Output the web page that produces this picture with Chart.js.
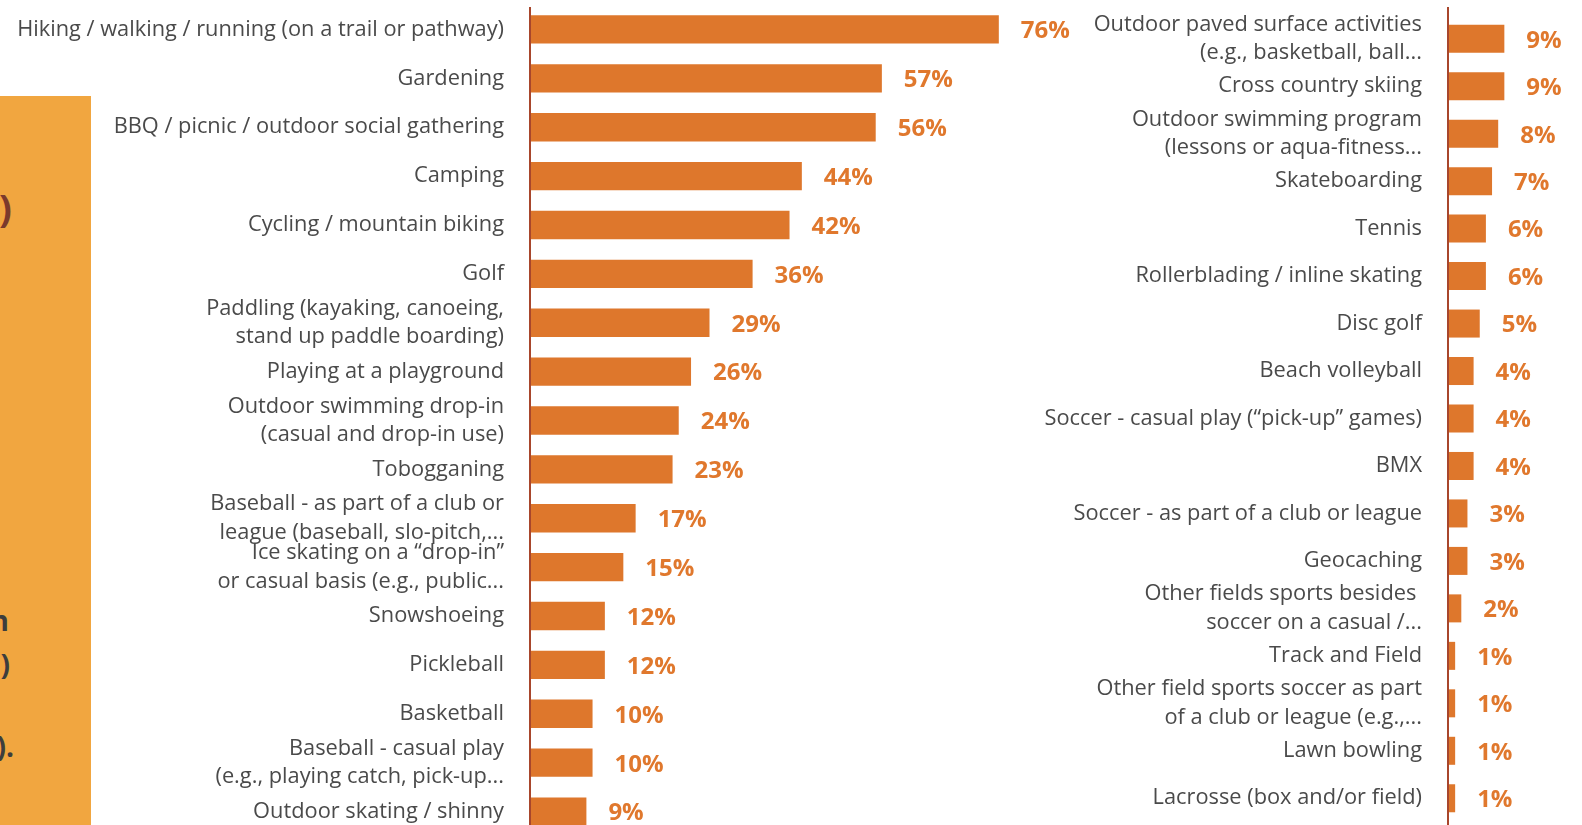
<!DOCTYPE html>
<html>
<head>
<meta charset="utf-8">
<script src="https://cdn.jsdelivr.net/npm/chart.js@4.4.1/dist/chart.umd.min.js"></script>
<style>
    html, body { margin: 0; padding: 0; background: #fff; overflow: hidden; width: 1582px; height: 825px; }
    #panel { position: absolute; left: 0; top: 96px; width: 91px; height: 729px; background: #F1A640; overflow: hidden; }
    .bit { position: absolute; left: -60px; width: 72px; text-align: right; font-family: "Open Sans", sans-serif; font-weight: 700; line-height: 1; }
    #leftWrap { position: absolute; left: 0; top: 0; width: 1085px; height: 840px; }
    #rightWrap { position: absolute; left: 1000px; top: 0; width: 582px; height: 840px; }
</style>
</head>
<body>
<div id="panel">
    <div class="bit" style="top:92px;font-size:38px;color:#7B3A2C;">)</div>
    <div class="bit" style="top:510px;font-size:28px;color:#3d3d3d;left:-63px;">n</div>
    <div class="bit" style="top:554px;font-size:28px;color:#3d3d3d;left:-62px;">)</div>
    <div class="bit" style="top:636px;font-size:28px;color:#3d3d3d;left:-58px;">).</div>
</div>
<div id="leftWrap"><canvas id="leftChart"></canvas></div>
<div id="rightWrap"><canvas id="rightChart"></canvas></div>
<script>
    "use strict";

    const leftLabels = [
        "Hiking / walking / running (on a trail or pathway)",
        "Gardening",
        "BBQ / picnic / outdoor social gathering",
        "Camping",
        "Cycling / mountain biking",
        "Golf",
        ["Paddling (kayaking, canoeing,", "stand up paddle boarding)"],
        "Playing at a playground",
        ["Outdoor swimming drop-in", "(casual and drop-in use)"],
        "Tobogganing",
        ["Baseball - as part of a club or", "league (baseball, slo-pitch,..."],
        ["Ice skating on a \u201cdrop-in\u201d", "or casual basis (e.g., public..."],
        "Snowshoeing",
        "Pickleball",
        "Basketball",
        ["Baseball - casual play", "(e.g., playing catch, pick-up..."],
        "Outdoor skating / shinny",
    ];
    const leftValues = [76, 57, 56, 44, 42, 36, 29, 26, 24, 23, 17, 15, 12, 12, 10, 10, 9];

    const rightLabels = [
        ["Outdoor paved surface activities", "(e.g., basketball, ball..."],
        "Cross country skiing",
        ["Outdoor swimming program", "(lessons or aqua-fitness..."],
        "Skateboarding",
        "Tennis",
        "Rollerblading / inline skating",
        "Disc golf",
        "Beach volleyball",
        "Soccer - casual play (\u201cpick-up\u201d games)",
        "BMX",
        "Soccer - as part of a club or league",
        "Geocaching",
        ["Other fields sports besides ", "soccer on a casual /..."],
        "Track and Field",
        ["Other field sports soccer as part", "of a club or league (e.g.,..."],
        "Lawn bowling",
        "Lacrosse (box and/or field)",
    ];
    const rightValues = [9, 9, 8, 7, 6, 6, 5, 4, 4, 4, 3, 3, 2, 1, 1, 1, 1];

    const BAR_COLOR = "#DE772C";
    const VALUE_COLOR = "#E0782D";
    const AXIS_COLOR = "#A8462C";
    const LABEL_COLOR = "#4a4a4a";

    // vertical axis line, runs from near the top to the bottom of the canvas
    const axisLine = {
        id: "axisLine",
        afterDraw(chart) {
            const { ctx, chartArea } = chart;
            ctx.save();
            ctx.fillStyle = AXIS_COLOR;
            ctx.fillRect(chartArea.left - 2, 7, 2, chart.height);
            ctx.restore();
        },
    };

    // percentage labels right of each bar
    const valueLabels = {
        id: "valueLabels",
        afterDatasetsDraw(chart) {
            const { ctx } = chart;
            const meta = chart.getDatasetMeta(0);
            const data = chart.data.datasets[0].data;
            ctx.save();
            ctx.font = "700 24px 'Open Sans', sans-serif";
            ctx.fillStyle = VALUE_COLOR;
            ctx.textAlign = "left";
            ctx.textBaseline = "middle";
            meta.data.forEach((bar, i) => {
                ctx.fillText(data[i] + "%", bar.x + 22, bar.y + 2);
            });
            ctx.restore();
        },
    };

    function makeChart(id, labels, values, cfg) {
        const ctx = document.getElementById(id).getContext("2d");
        return new Chart(ctx, {
            type: "bar",
            data: {
                labels: labels,
                datasets: [
                    {
                        data: values,
                        backgroundColor: BAR_COLOR,
                        barPercentage: cfg.bar,
                        categoryPercentage: 1,
                    },
                ],
            },
            options: {
                indexAxis: "y",
                responsive: true,
                maintainAspectRatio: false,
                animation: false,
                layout: {
                    padding: { top: cfg.top, bottom: cfg.bottom, left: 0, right: cfg.right },
                },
                plugins: {
                    legend: { display: false },
                    tooltip: { enabled: false },
                },
                scales: {
                    x: { display: false, min: 0, max: cfg.max },
                    y: {
                        grid: { display: false, drawTicks: false },
                        border: { display: false },
                        ticks: {
                            color: LABEL_COLOR,
                            padding: 27,
                            autoSkip: false,
                            font: { family: "Open Sans", size: 21.8, lineHeight: 1.3 },
                        },
                        afterFit(axis) {
                            axis.width = cfg.yWidth;
                            // labels sit inside their rows, no extra room needed
                            axis.paddingTop = 0;
                            axis.paddingBottom = 0;
                        },
                    },
                },
            },
            plugins: [axisLine, valueLabels],
        });
    }

    makeChart("leftChart", leftLabels, leftValues, {
        bar: 0.58, top: 5, bottom: 4, right: 0, max: 90, yWidth: 531,
    });
    makeChart("rightChart", rightLabels, rightValues, {
        bar: 0.59, top: 15, bottom: 18, right: 10, max: 20, yWidth: 449,
    });
</script>
</body>
</html>
